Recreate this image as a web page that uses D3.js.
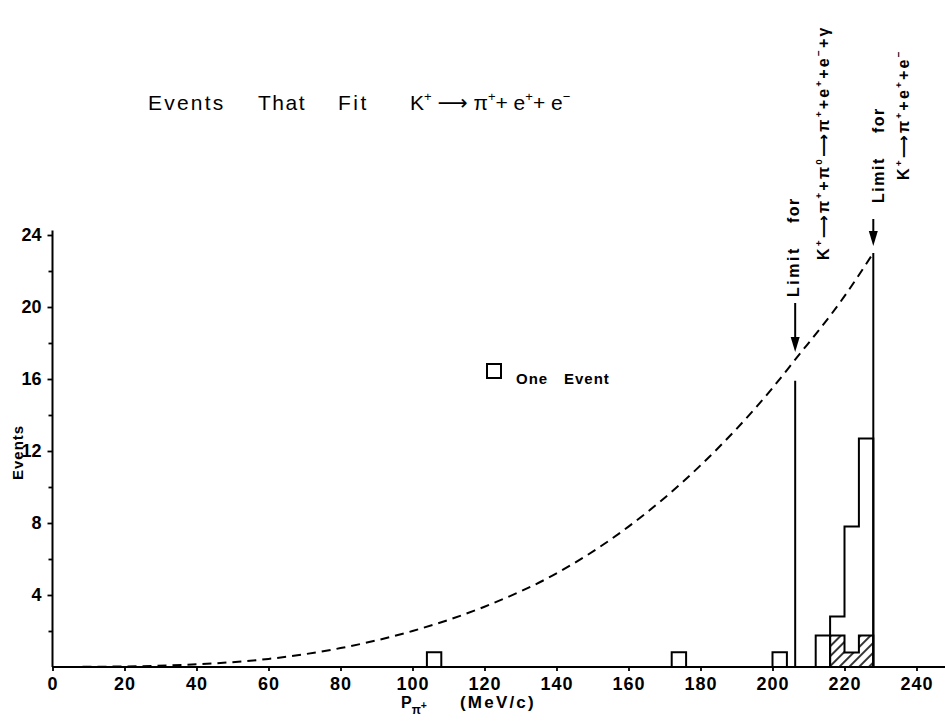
<!DOCTYPE html>
<html><head><meta charset="utf-8">
<script src="https://cdn.jsdelivr.net/npm/d3@7"></script>
<style>body{margin:0;background:#fff}svg{display:block}</style>
</head><body>
<svg id="c" width="945" height="721"></svg>
<script>
// ---------------- data ----------------
const xTicks = [0,20,40,60,80,100,120,140,160,180,200,220,240];
const yTicks = [4,8,12,16,20,24];
const yMinorTicks = [2,6,10,14,18,22];
// single-event boxes (bin start MeV/c, bin width 4)
const singleStarts = [104,172,200];
const singleHeights = [0.82,0.82,0.82];
// histogram near the limit
const binStarts = [212,216,220,224];
const binCounts = [1.75,2.8,7.8,12.7];
const hatchedStarts = [216,220,224];
const hatchedCounts = [1.75,0.8,1.75];
const binWidth = 4;
// dashed phase-space curve
const curveP = [0,20,40,60,80,100,120,140,160,180,200,206,220,228];
const curveV = [0,0.03,0.15,0.45,1.05,2.0,3.35,5.2,7.8,11.2,15.5,17.0,20.6,23.0];
// kinematic limits
const limitP = [206.3,228];
const limitTop = [15.9,23.0];

// ---------------- drawing ----------------
const svg = d3.select('#c');
const FONT = "'Liberation Sans', Arial, sans-serif";
const x = d3.scaleLinear().domain([0,240]).range([52.5,916.5]);
const y = d3.scaleLinear().domain([0,24]).range([667,235]);

const defs = svg.append('defs');
const pat = defs.append('pattern').attr('id','hatch').attr('patternUnits','userSpaceOnUse')
  .attr('width',7).attr('height',7).attr('patternTransform','rotate(45)');
pat.append('line').attr('x1',1).attr('y1',0).attr('x2',1).attr('y2',7).attr('stroke','#000').attr('stroke-width',1.6);

// axes lines
svg.append('line').attr('x1',x(0)).attr('x2',945).attr('y1',y(0)).attr('y2',y(0))
  .attr('stroke','#000').attr('stroke-width',2.2);
svg.append('line').attr('x1',x(0)).attr('x2',x(0)).attr('y1',y(0)).attr('y2',y(24.25))
  .attr('stroke','#000').attr('stroke-width',2);

const yAx = svg.append('g').attr('transform',`translate(${x(0)},0)`)
  .call(d3.axisLeft(y).tickValues(yTicks).tickSize(5).tickPadding(6).tickFormat(d3.format('d')));
yAx.select('.domain').remove();
const yAxm = svg.append('g').attr('transform',`translate(${x(0)},0)`)
  .call(d3.axisLeft(y).tickValues(yMinorTicks).tickSize(4).tickFormat(''));
yAxm.select('.domain').remove();
const xAx = svg.append('g').attr('transform',`translate(0,${y(0)})`)
  .call(d3.axisBottom(x).tickValues(xTicks).tickSize(4).tickPadding(6).tickFormat(d3.format('d')));
xAx.select('.domain').remove();
[yAx,yAxm,xAx].forEach(a=>{
  a.selectAll('line').attr('stroke','#000').attr('stroke-width',1.8);
  a.selectAll('text').attr('fill','#000').style('font-family',FONT).style('font-weight','bold')
    .style('font-size','18px');
});
xAx.selectAll('text').style('letter-spacing','1px');

// dashed curve
const pts = curveP.map((p,i)=>[p,curveV[i]]);
svg.append('path').datum(pts)
  .attr('d', d3.line().x(d=>x(d[0])).y(d=>y(d[1])).curve(d3.curveMonotoneX))
  .attr('fill','none').attr('stroke','#000').attr('stroke-width',2).attr('stroke-dasharray','9,6');

// single event boxes
svg.selectAll('rect.single').data(singleStarts).enter().append('rect')
  .attr('x',d=>x(d)).attr('width',d=>x(d+binWidth)-x(d))
  .attr('y',(d,i)=>y(singleHeights[i])).attr('height',(d,i)=>y(0)-y(singleHeights[i]))
  .attr('fill','none').attr('stroke','#000').attr('stroke-width',2);

// step histogram path builder
function stepPath(starts, counts){
  let d = `M${x(starts[0])},${y(0)}`;
  starts.forEach((s,i)=>{ d += `V${y(counts[i])}H${x(s+binWidth)}`; });
  d += `V${y(0)}Z`;
  return d;
}
svg.append('path').attr('d',stepPath(hatchedStarts,hatchedCounts))
  .attr('fill','url(#hatch)').attr('stroke','#000').attr('stroke-width',2);
svg.append('path').attr('d',stepPath(binStarts,binCounts))
  .attr('fill','none').attr('stroke','#000').attr('stroke-width',2);
svg.append('line').attr('x1',x(binStarts[1])).attr('x2',x(binStarts[1]))
  .attr('y1',y(0)).attr('y2',y(binCounts[0])).attr('stroke','#000').attr('stroke-width',2);

// limit lines
limitP.forEach((p,i)=>{
  svg.append('line').attr('x1',x(p)).attr('x2',x(p)).attr('y1',y(0)).attr('y2',y(limitTop[i]))
    .attr('stroke','#000').attr('stroke-width',2);
});
// arrows
function arrow(xp, y1, y2){
  svg.append('line').attr('x1',xp).attr('x2',xp).attr('y1',y1).attr('y2',y2-8)
    .attr('stroke','#000').attr('stroke-width',2);
  svg.append('path').attr('d',`M${xp-4.5},${y2-15}L${xp},${y2}L${xp+4.5},${y2-15}Z`).attr('fill','#000');
}
arrow(x(limitP[0]), 303, 352);
arrow(x(limitP[1]), 219, 246);

// rich text helper: parts = [text, baseline offset (em), scale, fontFamily?]
function rich(sel, parts, fs){
  let shift = 0;
  parts.forEach(([t, off, sc, ff])=>{
    const target = off*fs;
    const ts = sel.append('tspan').attr('dy', target-shift).style('font-size',(fs*sc)+'px').text(t);
    if(ff) ts.style('font-family',ff);
    shift = target;
  });
}
function txt(xp, yp, fs, weight, rot){
  const t = svg.append('text').attr('fill','#000').style('font-family',FONT)
    .style('font-size',fs+'px').style('font-weight',weight).style('white-space','pre');
  if(rot) t.attr('transform',`translate(${xp},${yp}) rotate(-90)`);
  else t.attr('x',xp).attr('y',yp);
  return t;
}
const S = 0.62, UP = -0.42;
const AR = "'DejaVu Sans', sans-serif";
const ARROW = '\u27f6';

// title
txt(148,110,21,'normal').style('letter-spacing','2.2px').text('Events');
txt(258,110,21,'normal').style('letter-spacing','1.5px').text('That');
txt(338,110,21,'normal').style('letter-spacing','2.5px').text('Fit');
rich(txt(410,110,21,'normal'), [['K',0,1],['+',UP,S],[' ',0,1],[ARROW,0,1,AR],[' \u03c0',0,1],['+',UP,S],['+ e',0,1],['+',UP,S],['+ e',0,1],['\u2212',UP,S]], 21);

// legend
svg.append('rect').attr('x',487).attr('y',364).attr('width',14).attr('height',14)
  .attr('fill','none').attr('stroke','#000').attr('stroke-width',2);
txt(516,384,15,'bold').style('letter-spacing','1px').text('One');
txt(564,384,15,'bold').style('letter-spacing','1px').text('Event');

// axis titles
txt(23,480,15,'bold',true).style('letter-spacing','1px').text('Events');
const xl = txt(401,708,16,'bold');
rich(xl, [['P',0,1],['\u03c0',0.35,0.75],['+',0.05,0.65]], 16);
txt(460,708,17,'bold').style('letter-spacing','2.2px').text('(MeV/c)');

// vertical annotations
const LS = '2.2px';
txt(799,297,16,'bold',true).style('letter-spacing','2.5px').text('Limit');
txt(799,223,16,'bold',true).style('letter-spacing','1.5px').text('for');
rich(txt(829,260,16,'bold',true).style('letter-spacing',LS),
  [['K',0,1],['+',UP,S],[ARROW,0,1,AR],['\u03c0',0,1],['+',UP,S],['+\u03c0',0,1],['0',UP,S],[ARROW,0,1,AR],['\u03c0',0,1],['+',UP,S],['+e',0,1],['+',UP,S],['+e',0,1],['\u2212',UP,S],['+\u03b3',0,1]], 16);
txt(884,203,16,'bold',true).style('letter-spacing','1.5px').text('Limit');
txt(884,133,16,'bold',true).style('letter-spacing','1.5px').text('for');
rich(txt(909,180,16,'bold',true).style('letter-spacing',LS),
  [['K',0,1],['+',UP,S],[ARROW,0,1,AR],['\u03c0',0,1],['+',UP,S],['+e',0,1],['+',UP,S],['+e',0,1],['\u2212',UP,S]], 16);
</script>
</body></html>
